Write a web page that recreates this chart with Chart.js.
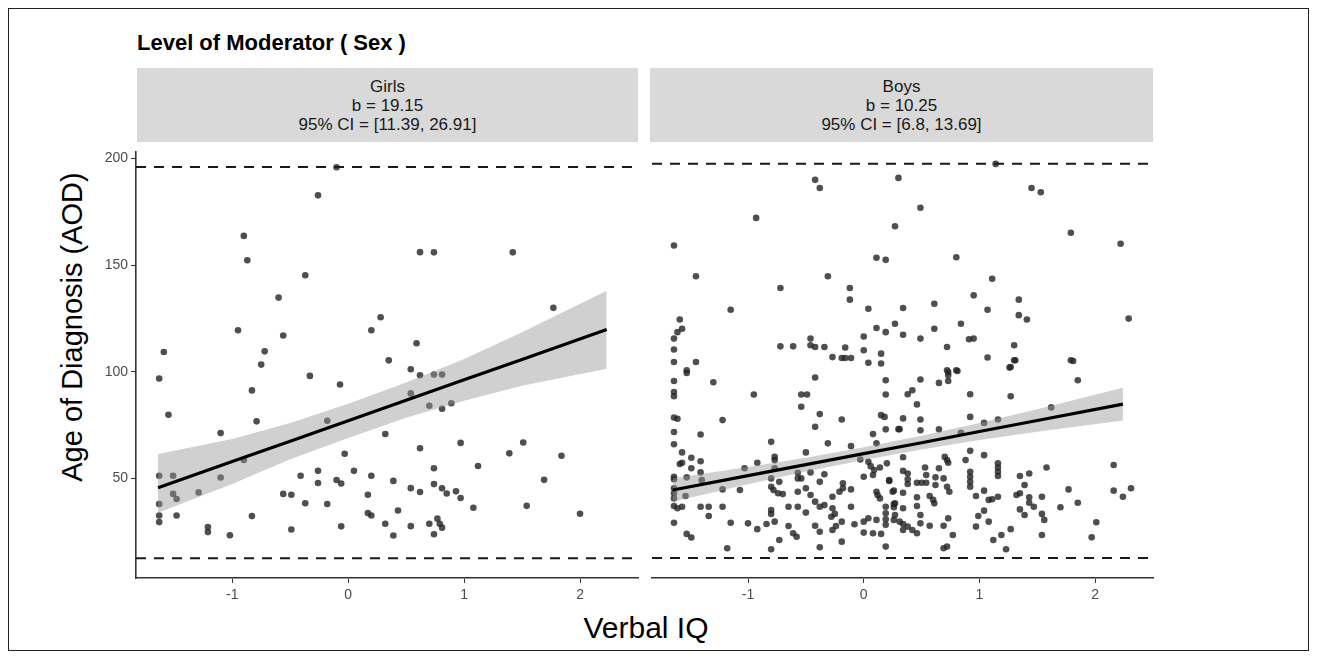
<!DOCTYPE html>
<html>
<head>
<meta charset="utf-8">
<script src="https://cdn.jsdelivr.net/npm/chart.js@4"></script>
<style>
  body { margin: 0; background: #fff; font-family: "Liberation Sans", Arial, sans-serif; }
  #wrap { position: relative; width: 1317px; height: 660px; overflow: hidden; }
  #frame { position: absolute; left: 8px; top: 8px; width: 1301px; height: 643px; border: 1px solid #222; box-sizing: border-box; }
  #title { position: absolute; left: 137px; top: 30px; font-size: 22px; font-weight: bold; color: #000; white-space: nowrap; }
  .strip { position: absolute; top: 68px; height: 74px; background: #d9d9d9; color: #1a1a1a;
           font-size: 17px; line-height: 19px; text-align: center; padding-top: 9px; box-sizing: border-box; }
  #ytitle { position: absolute; left: 72px; top: 327px; transform: translate(-50%, -50%) rotate(-90deg);
            font-size: 29px; white-space: nowrap; color: #000; }
  #xtitle { position: absolute; left: 646px; top: 628px; transform: translate(-50%, -50%);
            font-size: 30px; white-space: nowrap; color: #000; }
  canvas { position: absolute; }
</style>
</head>
<body>
<div id="wrap">
  <div id="frame"></div>
  <div id="title">Level of Moderator ( Sex )</div>
  <div class="strip" style="left:137px; width:501px;">Girls<br>b = 19.15<br>95% CI = [11.39, 26.91]</div>
  <div class="strip" style="left:650px; width:503px;">Boys<br>b = 10.25<br>95% CI = [6.8, 13.69]</div>
  <div id="ytitle">Age of Diagnosis (AOD)</div>
  <div id="xtitle">Verbal IQ</div>
  <canvas id="girls" width="645" height="470" style="left:0; top:140px;"></canvas>
  <canvas id="boys" width="515" height="470" style="left:645px; top:140px;"></canvas>
</div>
<script>
// axis setup
const xRange = [-1.83, 2.5];
const yRange = [3.4, 203.3];
const xTicks = [-1, 0, 1, 2];
const yTicks = [50, 100, 150, 200];
// dashed cut-off lines
const cutoffs = [196, 12.7];

// Girls: points (verbal IQ, AOD)
const girlsX = [-0.10, -0.26, -0.90, -0.87, -0.37, -0.60, 0.28, -0.95, -0.56, 0.20, -1.59, -0.72, -0.75, 0.35,
  0.62, 0.74, 1.42, 1.77, 0.59, 0.54, -1.63, -0.33, -0.83, -0.07, -1.55, -0.79, -1.10, -0.18, 0.32, -0.03,
  -0.90, -0.26, 0.05, -1.63, -1.51, -1.10, -0.41, 0.20, -0.26, -0.10, -0.06, -1.51, -1.48, -1.29, -0.56, -0.49,
  0.17, -1.63, -0.37, -0.18, -1.63, -1.63, -1.48, -0.83, 0.17, 0.20, -1.21, -1.21, -1.02, -0.49, -0.06, 0.32,
  0.62, 0.74, 0.81, 0.54, 0.70, 0.81, 0.89, 0.62, 0.97, 1.39, 1.51, 1.84, 0.74, 1.12, 0.39, 0.74, 1.69, 0.54,
  0.62, 0.81, 0.85, 0.93, 0.97, 0.43, 1.08, 1.54, 2.00, 0.39, 0.54, 0.70, 0.77, 0.79, 0.81, 0.74];
const girlsY = [195.9, 182.7, 163.7, 152.3, 145.3, 134.8, 125.6, 119.5, 117.0, 119.5, 109.3, 109.6, 103.4, 105.4,
  156.1, 156.0, 156.0, 130.0, 113.4, 101.2, 96.9, 98.1, 91.3, 94.1, 79.9, 76.8, 71.3, 77.1, 70.9, 61.6,
  58.7, 53.6, 53.6, 51.3, 51.3, 50.5, 51.3, 51.3, 47.9, 49.3, 47.7, 42.8, 40.4, 43.5, 42.8, 42.4,
  42.4, 38.1, 38.4, 38.1, 32.7, 29.6, 32.7, 32.4, 33.8, 32.7, 27.3, 24.9, 23.4, 26.1, 27.6, 28.8,
  98.4, 98.7, 98.7, 89.9, 84.1, 82.7, 85.3, 64.2, 66.7, 61.8, 66.9, 60.7, 54.8, 55.9, 48.9, 47.4, 49.4, 45.5,
  43.7, 45.4, 43.0, 44.0, 40.9, 35.0, 36.3, 37.2, 33.5, 23.3, 27.7, 28.8, 31.2, 28.8, 27.0, 23.9];

// Girls: fitted line and 95% band
const girlsFitX = [-1.64, -1, -0.5, 0, 0.5, 1, 1.5, 2.23];
const girlsFit = [45.7, 58.0, 67.5, 77.1, 86.7, 96.3, 105.8, 119.8];
const girlsLower = [34.0, 47.5, 59.0, 69.0, 78.5, 86.5, 93.5, 101.5];
const girlsUpper = [61.5, 68.5, 76.0, 85.0, 95.0, 106.0, 118.5, 138.0];

// Boys: points (verbal IQ, AOD)
const boysX = [-0.42, -0.38, 0.30, -0.93, -1.64, 0.27, 0.11, 0.19, -1.45, -0.31, -0.72, -0.12, -0.12, -1.15, 0.04,
  -1.59, -1.57, -1.61, -1.64, 0.11, 0.19, 0.27, 0.00, -1.64, -0.72, -0.61, -0.46, -0.46, -0.42, -0.34, -0.27,
  -0.19, -0.16, -0.11, -0.16, 0.00, 0.15, -1.64, -1.45, 0.04, 0.15, -1.53,
  1.14, 1.45, 1.53, 0.49, 1.79, 2.22, 0.80, 1.11, 0.95, 1.34, 0.34, 0.61, 1.07, 1.34, 1.41, 2.29, 0.34, 0.49,
  0.61, 0.84, 0.91, 0.95, 0.72, 1.30, 1.07, 1.30, 1.79, 1.26, 0.72, 0.80,
  -1.53, -1.64, -1.30, -1.64, -1.64, -0.95, -0.54, -0.49, -0.42, -0.54, -1.64, -1.61, -1.22, -0.38, -0.42, -0.19,
  0.15, 0.18, 0.19, 0.19, -1.64, -1.41, 0.19, 0.08, 0.30, -1.64, -0.80, -0.31, -0.11, 0.11, -1.57, -1.49, -1.41,
  -0.50, -0.77, -0.77, -1.59, -1.57, -1.49, -1.41, -0.92, -1.03, -0.77, -0.57, -0.46, -0.34, -0.03, 0.04, 0.06,
  0.09, 0.14, 0.20, 0.00, 0.08, -1.64, -1.64, -1.53, -1.40, -1.64, -1.64, -1.64, -1.54, -1.22, -1.07, -0.80,
  -0.80, -0.78, -0.74, -0.70, -0.73, -0.57, -0.54, -0.57, -0.50, -0.46, -0.38, -0.42, -0.38, -0.34, -0.27, -0.21,
  -0.18, -0.18, -0.11, 0.11, 0.12, 0.14, 0.25, 0.22, -1.64, -1.61, -1.57, -1.41, -1.34, -1.22, -1.34, -0.80,
  -0.80, -0.65, -0.57, -0.50, -0.27, -0.25, -0.28, -0.11, 0.19, 0.19, 0.19, 0.19, 0.27, 0.27, -1.64, -1.15,
  -1.00, -0.92, -0.84, -0.77, -0.65, -0.42, -0.38, -0.27, -0.24, -0.19, -0.08, 0.00, 0.04, 0.11, 0.00, 0.08,
  0.15, -1.53, -1.49, -0.61, -0.58, -0.73, -0.19, -1.18, -0.80, -0.38, 0.19,
  1.31, 1.27, 1.81, 0.73, 0.73, 0.73, 0.81, 0.49, 0.65, 1.85, 0.42, 0.38, 0.92, 1.27, 0.46, 1.62, 0.34, 0.49,
  0.92, 0.31, 0.49, 0.65, 0.84, 1.04, 1.16, 0.34, 0.92, 1.04, 0.70, 0.72, 0.73, 0.88, 0.34, 0.38, 0.38, 0.38,
  0.53, 0.54, 0.46, 0.50, 0.54, 0.65, 0.62, 0.62, 0.69, 0.72, 0.74, 0.92, 0.92, 0.92, 0.92, 1.16, 1.16, 1.16,
  1.16, 1.35, 1.43, 1.39, 1.58, 2.16, 0.22, 0.26, 0.34, 0.46, 0.46, 0.57, 0.60, 0.61, 0.97, 1.04, 1.08, 1.11,
  1.16, 1.32, 1.35, 1.43, 1.43, 1.47, 1.54, 1.77, 1.70, 1.85, 2.16, 2.24, 2.31, 0.26, 0.26, 0.34, 0.26, 0.31,
  0.34, 0.34, 0.38, 0.42, 0.46, 0.49, 0.49, 0.57, 0.69, 0.73, 0.77, 0.69, 0.72, 0.97, 0.99, 1.04, 1.08, 1.12,
  1.19, 1.27, 1.23, 1.35, 1.39, 1.54, 1.56, 1.54, 1.97, 2.01];
const boysY = [188.5, 184.7, 189.4, 170.8, 158.0, 166.9, 152.3, 151.3, 143.7, 143.7, 138.2, 138.2, 132.8, 128.1, 128.6,
  123.6, 119.3, 117.7, 114.7, 119.6, 117.7, 121.6, 115.7, 109.6, 111.1, 111.1, 114.7, 111.6, 110.8, 110.8, 106.1,
  105.7, 105.7, 105.7, 110.5, 109.3, 107.7, 103.8, 103.8, 103.5, 103.1, 100.0,
  195.9, 184.7, 182.7, 175.5, 163.9, 158.8, 152.5, 142.5, 134.8, 132.8, 128.9, 130.9, 128.1, 125.6, 123.6, 124.0, 116.5, 114.7,
  119.3, 121.6, 114.4, 114.7, 110.8, 111.6, 105.9, 104.6, 104.6, 101.2, 100.0, 100.0,
  98.7, 95.0, 94.4, 89.9, 87.9, 88.7, 88.7, 88.7, 96.6, 83.0, 78.0, 77.4, 76.8, 79.6, 73.7, 77.1,
  79.1, 78.3, 95.3, 88.7, 71.3, 70.1, 72.5, 70.3, 72.6, 65.6, 66.7, 66.0, 64.7, 66.0, 61.8, 59.3, 57.7,
  61.8, 59.7, 58.2, 56.4, 57.0, 54.4, 52.5, 57.0, 54.4, 54.4, 52.3, 52.5, 51.6, 58.5, 57.4, 55.4,
  53.6, 54.8, 56.7, 50.5, 51.3, 50.5, 49.3, 50.2, 48.9, 45.1, 42.8, 40.4, 41.5, 44.6, 44.3, 49.7,
  45.8, 44.3, 42.8, 42.4, 48.1, 49.7, 49.7, 43.5, 45.1, 42.0, 48.1, 38.9, 36.5, 37.3, 41.2, 43.5,
  47.4, 45.1, 44.6, 43.5, 42.0, 40.4, 43.5, 48.5, 36.9, 35.8, 36.5, 36.5, 36.5, 36.5, 32.2, 35.0,
  33.2, 36.5, 36.5, 33.8, 35.8, 33.2, 31.9, 36.5, 36.5, 33.5, 30.7, 28.1, 38.1, 32.7, 29.1, 29.1,
  28.8, 26.1, 28.5, 29.6, 27.6, 27.7, 24.9, 25.7, 27.6, 29.6, 28.4, 29.6, 31.2, 30.4, 24.5, 24.2,
  23.9, 23.9, 22.2, 24.2, 22.6, 21.1, 20.3, 17.2, 16.8, 17.7, 18.0,
  104.6, 101.5, 104.3, 99.2, 97.7, 95.0, 99.6, 95.7, 94.1, 95.3, 90.7, 88.8, 88.8, 87.9, 84.1, 82.7, 77.6, 77.1,
  78.3, 72.6, 72.1, 72.5, 70.9, 75.5, 77.1, 59.5, 62.5, 60.5, 59.7, 58.2, 57.0, 58.2, 53.2, 52.0, 49.3, 47.1,
  54.8, 51.3, 47.7, 47.7, 47.7, 54.4, 50.2, 46.6, 49.7, 45.8, 43.5, 52.8, 50.5, 48.1, 45.8, 56.7, 54.8, 52.8,
  50.8, 50.8, 52.0, 46.6, 54.8, 55.9, 48.9, 44.0, 43.0, 40.9, 36.9, 41.5, 39.7, 38.1, 41.5, 44.0, 39.7, 40.0,
  41.2, 42.0, 42.8, 40.9, 38.4, 36.5, 41.2, 44.6, 36.3, 38.4, 44.0, 41.2, 45.1, 37.8, 36.3, 35.8, 30.4, 29.6,
  28.5, 25.7, 27.3, 25.7, 24.2, 32.7, 28.8, 27.7, 27.7, 31.2, 23.4, 17.2, 18.0, 27.3, 32.2, 34.7, 29.6, 21.1,
  23.4, 26.1, 16.8, 35.3, 32.7, 33.2, 30.4, 23.4, 22.3, 29.3];

// Boys: fitted line and 95% band
const boysFitX = [-1.65, -1, -0.5, 0, 0.5, 1, 1.5, 2.24];
const boysFit = [44.3, 51.0, 56.1, 61.2, 66.3, 71.5, 76.6, 84.2];
const boysLower = [38.8, 47.0, 52.9, 58.2, 63.1, 67.5, 71.4, 76.6];
const boysUpper = [49.8, 55.0, 59.3, 64.2, 69.5, 75.5, 81.8, 91.8];

const axisColor = '#333333';
const tickFont = { family: '"Liberation Sans", Arial, sans-serif', size: 14 };

function drawPanel(id, xs, ys, fitX, fit, lower, upper, showY) {
  const pairs = (a, b) => a.map((v, i) => ({ x: v, y: b[i] }));
  const hline = v => [{ x: xRange[0], y: v }, { x: xRange[1], y: v }];
  const dashed = v => ({
    type: 'line', data: hline(v), borderColor: '#1a1a1a', borderWidth: 2,
    borderDash: [10, 8], pointRadius: 0, order: 5
  });

  return new Chart(document.getElementById(id), {
    type: 'scatter',
    data: {
      datasets: [
        { data: pairs(xs, ys), pointRadius: 3.3, pointBorderWidth: 0,
          pointBackgroundColor: 'rgba(35,35,35,0.8)', order: 4 },
        { type: 'line', data: pairs(fitX, lower), borderWidth: 0, pointRadius: 0, fill: false, order: 2 },
        { type: 'line', data: pairs(fitX, upper), borderWidth: 0, pointRadius: 0, fill: '-1',
          backgroundColor: 'rgba(150,150,150,0.45)', order: 2 },
        { type: 'line', data: pairs(fitX, fit), borderColor: '#000', borderWidth: 3.2, pointRadius: 0, order: 0 },
        dashed(cutoffs[0]),
        dashed(cutoffs[1])
      ]
    },
    options: {
      responsive: false,
      animation: false,
      devicePixelRatio: 1,
      layout: { padding: { top: 8, right: 7, left: showY ? 0 : 7, bottom: 0 } },
      plugins: { legend: { display: false }, tooltip: { enabled: false } },
      scales: {
        x: {
          type: 'linear', min: xRange[0], max: xRange[1],
          afterBuildTicks: s => { s.ticks = xTicks.map(v => ({ value: v })); },
          afterFit: s => { s.height = 32; },
          grid: { drawOnChartArea: false, drawTicks: true, tickLength: 5, color: axisColor, lineWidth: 1 },
          border: { display: true, color: axisColor, width: 1.6 },
          ticks: { color: '#4d4d4d', font: tickFont, padding: 4, maxRotation: 0 }
        },
        y: {
          type: 'linear', min: yRange[0], max: yRange[1], display: showY,
          afterBuildTicks: s => { s.ticks = yTicks.map(v => ({ value: v })); },
          afterFit: s => { s.width = showY ? 136 : 0; },
          grid: { drawOnChartArea: false, drawTicks: true, tickLength: 5, color: axisColor, lineWidth: 1 },
          border: { display: true, color: axisColor, width: 1.6 },
          ticks: { color: '#4d4d4d', font: tickFont, padding: 3 }
        }
      }
    }
  });
}

drawPanel('girls', girlsX, girlsY, girlsFitX, girlsFit, girlsLower, girlsUpper, true);
drawPanel('boys', boysX, boysY, boysFitX, boysFit, boysLower, boysUpper, false);
</script>
</body>
</html>
